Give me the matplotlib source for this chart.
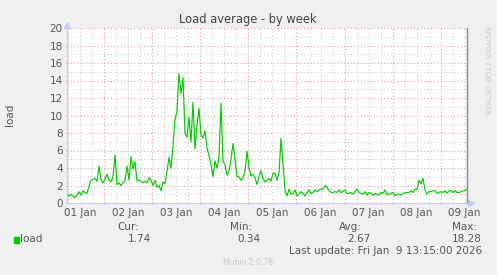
#!/usr/bin/env python3

import matplotlib
matplotlib.use("Agg")

import matplotlib.pyplot as plt
import matplotlib.dates as mdates
import matplotlib.transforms as mtransforms
import pandas as pd


# -----------------------------------------------------------
# Data (hourly load)
# -----------------------------------------------------------

start_time = "2026-01-01 05:15"

load_values = [
    # 01 Jan
    1.1, 0.8, 1.0, 0.8, 0.6, 0.9, 1.3, 0.9, 1.4, 1.2, 1.1, 1.9, 2.6, 2.7,
    2.8, 2.5, 4.2, 2.6, 2.3, 2.7, 3.3, 2.6, 2.4, 3.0, 5.5, 2.1, 2.3, 2.0,
    2.3,
    # 02 Jan
    2.6, 4.2, 2.6, 5.3, 3.9, 4.7, 2.5, 2.6, 2.5, 2.3, 2.5, 2.3, 2.9, 2.6,
    2.0, 2.6, 1.8, 2.0, 1.4, 2.4, 2.2, 3.6, 5.2,
    # 03 Jan
    4.0, 6.6, 9.5, 10.5, 14.8, 12.5, 14.3, 8.0, 7.5, 9.8, 7.0, 11.5, 6.2,
    8.9, 10.8, 7.8, 7.4, 8.3, 6.3, 5.4, 4.4, 3.0, 4.8, 4.0, 5.3, 11.4, 4.8,
    4.4, 3.2, 3.6,
    # 04 Jan
    5.0, 6.8, 5.0, 3.0, 3.0, 2.6, 2.9, 3.6, 5.9, 4.1, 3.1, 3.3, 2.9, 2.1,
    3.0, 3.7, 2.8, 2.4, 2.6, 2.8, 2.5, 3.4, 3.4, 2.6, 3.4, 7.4, 4.5, 1.5,
    0.8, 1.6,
    # 05 Jan
    1.0, 1.1, 1.5, 0.8, 1.0, 1.3, 1.1, 0.8, 1.2, 1.5, 1.1, 1.2, 1.5, 1.3,
    1.5, 1.6, 1.6, 2.0, 1.8, 1.4, 1.2, 1.2, 1.3, 1.2, 1.5, 1.2, 1.3, 1.5,
    1.1,
    # 06-07 Jan
    1.1, 1.2, 1.0, 1.3, 1.6, 1.2, 1.1, 1.0, 1.3, 0.9, 1.2, 1.1, 0.9, 1.1,
    1.0, 0.9, 1.2, 1.1, 1.5, 0.9, 1.0, 1.1, 1.2, 0.8, 1.0, 1.0, 0.9, 1.1,
    1.2,
    # 08-09 Jan
    1.2, 1.2, 1.4, 1.2, 1.6, 1.5, 2.6, 2.2, 2.8, 1.5, 1.0, 1.3, 1.3, 1.4,
    1.4, 1.1, 1.2, 1.3, 1.2, 1.4, 1.1, 1.4, 1.4, 1.2, 1.4, 1.2, 1.2, 1.3,
    1.4, 1.4, 1.6,
]

day_labels = ["01 Jan", "02 Jan", "03 Jan", "04 Jan", "05 Jan",
              "06 Jan", "07 Jan", "08 Jan", "09 Jan"]

stat_names = ["Cur:", "Min:", "Avg:", "Max:"]
stat_values = ["1.74", "0.34", "2.67", "18.28"]


# -----------------------------------------------------------
# Plot
# -----------------------------------------------------------

BG = "#f0f0f0"
TXT = "#555555"
AXIS = "#c8ccf0"
MAJOR = "#e4a0a0"
MINOR = "#cccccc"

plt.rcParams["font.family"] = ["DejaVu Sans"]

times = pd.date_range(start_time, periods=len(load_values), freq="h")

fig = plt.figure(figsize=(4.97, 2.75), dpi=100, facecolor=BG)
ax = fig.add_axes([67/497, 72/275, 400/497, 175/275])
ax.set_facecolor("white")

ax.plot(times, load_values, color="#00cc00", linewidth=0.85)

ax.set_xlim(times[0], times[-1])
ax.set_ylim(0, 20)

ax.xaxis.set_major_locator(mdates.DayLocator())
ax.xaxis.set_minor_locator(mdates.HourLocator(byhour=[6, 12, 18]))
ax.xaxis.set_major_formatter(plt.NullFormatter())
ax.set_yticks(range(0, 21, 2))
ax.set_yticks(range(1, 20, 2), minor=True)

ax.grid(which="major", color=MAJOR, linestyle=(0, (1, 2)), linewidth=0.8)
ax.grid(which="minor", color=MINOR, linestyle=(0, (1, 2)), linewidth=0.8)

ax.tick_params(axis="both", which="major", length=2, color=MAJOR,
               labelsize=7.5, labelcolor=TXT, pad=2)
ax.tick_params(axis="both", which="minor", length=2, color=MINOR)
ax.tick_params(axis="x", which="both", direction="inout")
ax.tick_params(axis="y", which="both", direction="inout")

ax.spines["top"].set_visible(False)
ax.spines["right"].set_color("#888888")
ax.spines["right"].set_linewidth(1.0)
ax.spines["left"].set_color(AXIS)
ax.spines["bottom"].set_color(AXIS)

# axis arrows
ax.plot(0, 1.015, marker="^", markersize=4, color=AXIS,
        transform=ax.transAxes, clip_on=False)
ax.plot(1.01, 0, marker=">", markersize=4, color=AXIS,
        transform=ax.transAxes, clip_on=False)

# day labels centred on each day
trans = mtransforms.blended_transform_factory(ax.transData, ax.transAxes)
noon0 = pd.Timestamp("2026-01-01 12:00")
for i, lab in enumerate(day_labels):
    t = mdates.date2num(noon0 + pd.Timedelta(days=i))
    ax.text(t, -0.03, lab, transform=trans, ha="center", va="top",
            fontsize=7.5, color=TXT)

fig.text(248/497, 1 - 20/275, "Load average - by week", ha="center",
         va="center", fontsize=8.3, color="#444444")
fig.text(10/497, 1 - 115/275, "load", rotation=90, ha="center",
         va="center", fontsize=7.5, color=TXT)
fig.text(487/497, 1 - 70/275, "RRDTOOL / TOBI OETIKER", rotation=270,
         ha="center", va="center", fontsize=5, color="#c8c8c8")

# legend / stats
name_right = [139, 252, 362, 477]
value_right = [151, 261, 370, 482]
for name, vr, nr, val in zip(stat_names, value_right, name_right, stat_values):
    fig.text(nr/497, 1 - 227/275, name, ha="right", va="center",
             fontsize=7.5, color=TXT)
    fig.text(vr/497, 1 - 239.5/275, val, ha="right", va="center",
             fontsize=7.5, color=TXT)

fig.patches.append(plt.Rectangle((14/497, 1 - 243/275), 5/497, 6/275,
                                 transform=fig.transFigure,
                                 color="#00cc00"))
fig.text(20/497, 1 - 239.5/275, "load", ha="left", va="center",
         fontsize=7.5, color=TXT)
fig.text(482/497, 1 - 251.5/275, "Last update: Fri Jan  9 13:15:00 2026",
         ha="right", va="center", fontsize=7.5, color=TXT)
fig.text(248/497, 1 - 262.5/275, "Munin 2.0.76", ha="center",
         va="center", fontsize=5.5, color="#c8c8c8")

fig.savefig("out.png", dpi=100, facecolor=BG)
